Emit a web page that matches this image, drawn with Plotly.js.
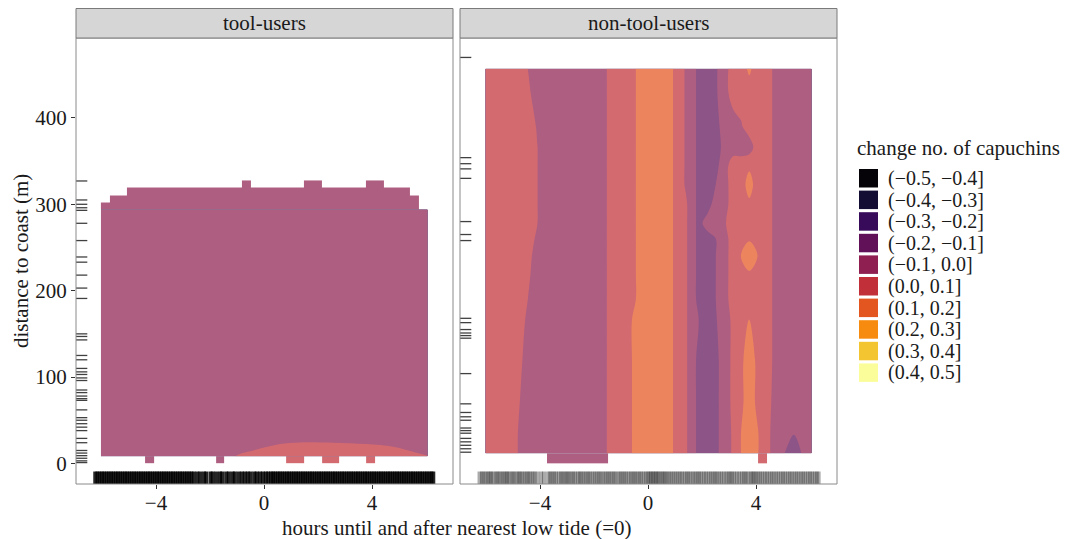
<!DOCTYPE html>
<html><head><meta charset="utf-8">
<script src="https://cdn.plot.ly/plotly-3.0.1.min.js"></script>
<style>html,body{margin:0;padding:0;background:#fff}#chart{width:1069px;height:539px}</style>
</head><body><div id="chart"></div>
<script>
// ---------------- DATA ----------------
const facetLabels = ['tool-users', 'non-tool-users'];
const xTitle = 'hours until and after nearest low tide (=0)';
const yTitle = 'distance to coast (m)';
const legendTitle = 'change no. of capuchins';
const binLabels = ['(\u22120.5, \u22120.4]', '(\u22120.4, \u22120.3]', '(\u22120.3, \u22120.2]', '(\u22120.2, \u22120.1]',
  '(\u22120.1, 0.0]', '(0.0, 0.1]', '(0.1, 0.2]', '(0.2, 0.3]', '(0.3, 0.4]', '(0.4, 0.5]'];
const binColors = ['#050308', '#140D33', '#370B5A', '#611158', '#8E1F50', '#C13039', '#E4561F', '#F68B10', '#F2C531', '#FBFD9A'];
const xTicks = [-4, 0, 4];
const yTicks = [0, 100, 200, 300, 400];

// tool-users: smoothed surface (x = hours, y = distance, z = change)
const toolX = [-6.04, -1.5, -1.2, -0.8, -0.4, 0.08, 0.6, 1.32, 2.56, 3.8, 4.79, 5.65, 6.06];
const toolY = [8.4, 40, 294];
const toolZ = [
  [-0.05, -0.05, -0.003, 0.0064, 0.0132, 0.0252, 0.0403, 0.0506, 0.0488, 0.0398, 0.0263, 0.0072, 0.001],
  [-0.05, -0.05, -0.05, -0.05, -0.05, -0.05, -0.05, -0.05, -0.05, -0.05, -0.05, -0.05, -0.05],
  [-0.05, -0.05, -0.05, -0.05, -0.05, -0.05, -0.05, -0.05, -0.05, -0.05, -0.05, -0.05, -0.05]
];
// tool-users: grid cells at the upper edge of the surface
const toolCapX = [-6.04, -5.713, -5.059, -0.808, -0.481, 1.481, 2.135, 3.77, 4.424, 5.405, 5.732, 6.06];
const toolCapY = [294, 302.4, 310.8, 319.2, 327.6];
const toolCapZ = [
  [-0.05, -0.05, -0.05, -0.05, -0.05, -0.05, -0.05, -0.05, -0.05, -0.05, null],
  [null, -0.05, -0.05, -0.05, -0.05, -0.05, -0.05, -0.05, -0.05, -0.05, null],
  [null, null, -0.05, -0.05, -0.05, -0.05, -0.05, -0.05, -0.05, null, null],
  [null, null, null, -0.05, null, -0.05, null, -0.05, null, null, null]
];
// tool-users: grid cells at the coast (lowest row)
const toolBaseX = [-4.405, -4.078, -1.789, -1.462, 0.827, 1.481, 2.135, 2.789, 3.77, 4.097];
const toolBaseY = [0, 8.4];
const toolBaseZ = [[-0.05, null, -0.05, null, 0.05, null, 0.05, null, 0.05]];

// non-tool-users: smoothed surface
const nonX = [-6.02, -5.0, -4.7, -4.4, -4.1, -3.8, -1.75, -1.3, -0.75, -0.3, 0.7, 1.15, 1.4, 1.6,
  1.9, 2.2, 2.5, 2.8, 3.15, 3.45, 3.75, 4.05, 4.4, 4.8, 5.1, 5.4, 5.7, 6.06];
const nonY = [11.7, 35, 70, 120, 166, 190, 220, 240, 260, 278, 300, 323, 345, 366, 390, 430, 457];
const nonZ = [
  [0.05, 0.05, -0.033, -0.05, -0.05, -0.05, -0.05, 0.05, 0.05, 0.195, 0.15, 0.05, 0.017, -0.05, -0.133, -0.15, -0.133, -0.05, 0.0125, 0.102, 0.15, 0.11, 0.024, -0.05, -0.108, -0.16, -0.096, -0.05],
  [0.05, 0.05, -0.033, -0.05, -0.05, -0.05, -0.05, 0.05, 0.05, 0.195, 0.15, 0.05, 0.017, -0.05, -0.133, -0.15, -0.133, -0.05, 0.0125, 0.102, 0.15, 0.11, 0.024, -0.05, -0.05, -0.095, -0.05, -0.05],
  [0.05, 0.05, -0.01, -0.05, -0.05, -0.05, -0.05, 0.05, 0.05, 0.195, 0.15, 0.05, 0.017, -0.05, -0.133, -0.15, -0.133, -0.05, 0.02, 0.08, 0.15, 0.08, 0.035, -0.05, -0.05, -0.05, -0.05, -0.05],
  [0.05, 0.05, 0.01, -0.05, -0.05, -0.05, -0.05, 0.05, 0.05, 0.195, 0.15, 0.05, 0.017, -0.05, -0.133, -0.15, -0.133, -0.05, 0.02, 0.08, 0.15, 0.08, 0.05, -0.05, -0.05, -0.05, -0.05, -0.05],
  [0.05, 0.05, 0.05, -0.05, -0.05, -0.05, -0.05, 0.05, 0.05, 0.195, 0.15, 0.05, 0.017, -0.05, -0.104, -0.15, -0.11, -0.05, 0.02, 0.05, 0.105, 0.05, 0.05, -0.05, -0.05, -0.05, -0.05, -0.05],
  [0.05, 0.05, 0.05, -0.01, -0.05, -0.05, -0.05, 0.05, 0.05, 0.125, 0.15, 0.05, 0.017, -0.05, -0.133, -0.15, -0.102, -0.05, 0.05, 0.05, 0.05, 0.05, 0.05, -0.05, -0.05, -0.05, -0.05, -0.05],
  [0.05, 0.05, 0.05, 0.01, -0.05, -0.05, -0.05, 0.05, 0.05, 0.125, 0.15, 0.05, 0.017, -0.05, -0.133, -0.15, -0.102, -0.05, 0.05, 0.05, 0.09, 0.05, 0.05, -0.05, -0.05, -0.05, -0.05, -0.05],
  [0.05, 0.05, 0.05, 0.025, -0.05, -0.05, -0.05, 0.05, 0.05, 0.125, 0.15, 0.05, 0.017, -0.05, -0.133, -0.15, -0.102, -0.05, 0.05, 0.102, 0.16, 0.105, 0.05, -0.05, -0.05, -0.05, -0.05, -0.05],
  [0.05, 0.05, 0.05, 0.05, -0.025, -0.05, -0.05, 0.05, 0.05, 0.125, 0.15, 0.05, 0.017, -0.05, -0.133, -0.15, -0.102, -0.05, 0.05, 0.05, 0.09, 0.05, 0.05, -0.05, -0.05, -0.05, -0.05, -0.05],
  [0.05, 0.05, 0.05, 0.05, 0.002, -0.05, -0.05, 0.05, 0.05, 0.125, 0.15, 0.05, 0.017, -0.05, -0.133, -0.05, -0.05, -0.017, 0.05, 0.05, 0.05, 0.05, 0.05, -0.05, -0.05, -0.05, -0.05, -0.05],
  [0.05, 0.05, 0.05, 0.05, 0.002, -0.05, -0.05, 0.05, 0.05, 0.125, 0.15, 0.05, 0.017, -0.05, -0.133, -0.15, -0.05, -0.05, 0.05, 0.05, 0.08, 0.05, 0.05, -0.05, -0.05, -0.05, -0.05, -0.05],
  [0.05, 0.05, 0.05, 0.05, 0.002, -0.05, -0.05, 0.05, 0.05, 0.125, 0.15, 0.05, -0.0125, -0.05, -0.133, -0.15, -0.102, -0.05, 0.05, 0.05, 0.144, 0.05, 0.05, -0.05, -0.05, -0.05, -0.05, -0.05],
  [0.05, 0.05, 0.05, 0.05, 0.002, -0.05, -0.05, 0.05, 0.05, 0.125, 0.15, 0.05, -0.0125, -0.05, -0.133, -0.15, -0.133, -0.05, 0.05, 0.05, 0.08, 0.05, 0.05, -0.05, -0.05, -0.05, -0.05, -0.05],
  [0.05, 0.05, 0.05, 0.05, 0.002, -0.05, -0.05, 0.05, 0.05, 0.125, 0.15, 0.05, -0.0125, -0.05, -0.133, -0.15, -0.15, -0.075, -0.05, -0.05, -0.05, 0.05, 0.05, -0.05, -0.05, -0.05, -0.05, -0.05],
  [0.05, 0.05, 0.05, 0.05, -0.01, -0.05, -0.05, 0.05, 0.05, 0.125, 0.15, 0.05, -0.0125, -0.05, -0.133, -0.15, -0.15, -0.05, -0.05, -0.01, 0.05, 0.05, 0.05, -0.05, -0.05, -0.05, -0.05, -0.05],
  [0.05, 0.05, 0.05, 0.01, -0.05, -0.05, -0.05, 0.05, 0.05, 0.125, 0.15, 0.05, -0.0125, -0.05, -0.133, -0.15, -0.115, -0.05, 0.05, 0.05, 0.05, 0.05, 0.05, -0.05, -0.05, -0.05, -0.05, -0.05],
  [0.05, 0.05, 0.05, -0.01, -0.05, -0.05, -0.05, 0.05, 0.05, 0.125, 0.15, 0.05, -0.0125, -0.05, -0.133, -0.15, -0.115, -0.05, 0.05, 0.05, 0.12, 0.05, 0.05, -0.05, -0.05, -0.05, -0.05, -0.05]
];
const nonBaseX = [-3.74, -1.47, 4.08, 4.40];
const nonBaseY = [0, 11.7];
const nonBaseZ = [[-0.05, null, 0.05]];

// rug observations
const toolRugY = [327, 305, 300, 296, 293, 278, 258, 239, 233, 218, 203, 191, 150, 147, 143, 125, 120, 110, 106, 103, 99, 96,
  85, 82, 78, 75, 73, 62, 53, 50, 46, 42, 38, 29, 24, 15, 12, 9, 6, 3, 1];
const nonRugY = [470, 354, 347, 341, 330, 280, 265, 258, 168, 163, 155, 151, 148, 145, 104, 69, 59, 54, 50, 41, 38, 35, 29, 25, 21, 17, 13];
const toolRugX = [-6.25, -6.17, -6.09, -6.0, -5.92, -5.83, -5.75, -5.66, -5.58, -5.49, -5.41, -5.32, -5.24, -5.15, -5.07, -4.98,
  -4.9, -4.81, -4.73, -4.64, -4.56, -4.47, -4.39, -4.3, -4.22, -4.13, -4.05, -3.96, -3.88, -3.79, -3.71, -3.62, -3.54, -3.45,
  -3.37, -3.28, -3.2, -3.11, -3.03, -2.94, -2.86, -2.77, -2.69, -2.6, -2.47, -2.36, -2.22, -2.14, -1.98, -1.9, -1.77, -1.63,
  -1.55, -1.4, -1.3, -1.16, -1.08, -0.94, -0.82, -0.71, -0.6, -0.5, -0.36, -0.27, -0.15, -0.04, 0.07, 0.16, 0.26, 0.34, 0.42,
  0.51, 0.59, 0.68, 0.76, 0.85, 0.93, 1.02, 1.1, 1.19, 1.27, 1.36, 1.44, 1.53, 1.61, 1.7, 1.78, 1.87, 1.95, 2.04, 2.12, 2.21,
  2.29, 2.38, 2.46, 2.55, 2.63, 2.72, 2.8, 2.89, 2.97, 3.06, 3.14, 3.23, 3.31, 3.4, 3.48, 3.57, 3.65, 3.74, 3.82, 3.91, 3.99,
  4.08, 4.16, 4.25, 4.33, 4.42, 4.5, 4.59, 4.67, 4.76, 4.84, 4.93, 5.01, 5.1, 5.18, 5.27, 5.35, 5.44, 5.52, 5.61, 5.69, 5.78,
  5.86, 5.95, 6.03, 6.12, 6.2, 6.27];
const nonRugX = [-6.24, -6.15, -6.09, -6.0, -5.93, -5.85, -5.8, -5.71, -5.62, -5.56, -5.48, -5.4, -5.33, -5.25, -5.2, -5.12,
  -5.03, -4.97, -4.88, -4.8, -4.74, -4.66, -4.58, -4.5, -4.43, -4.36, -4.27, -4.2, -4.1, -3.96, -3.85, -3.7, -3.62, -3.55, -3.47,
  -3.4, -3.3, -3.22, -3.15, -3.07, -3.0, -2.93, -2.85, -2.77, -2.7, -2.6, -2.53, -2.46, -2.38, -2.3, -2.22, -2.15, -2.06, -1.98,
  -1.9, -1.82, -1.75, -1.66, -1.58, -1.5, -1.43, -1.35, -1.27, -1.2, -1.1, -1.02, -0.95, -0.87, -0.8, -0.71, -0.63, -0.55, -0.48,
  -0.4, -0.32, -0.25, -0.16, -0.08, 0.0, 0.06, 0.12, 0.18, 0.24, 0.3, 0.36, 0.42, 0.5, 0.56, 0.63, 0.7, 0.78, 0.86, 0.94, 1.02,
  1.1, 1.18, 1.26, 1.35, 1.43, 1.5, 1.58, 1.67, 1.75, 1.83, 1.9, 1.98, 2.07, 2.15, 2.24, 2.32, 2.4, 2.48, 2.55, 2.64, 2.72, 2.81,
  2.9, 2.98, 3.05, 3.12, 3.2, 3.29, 3.38, 3.47, 3.55, 3.62, 3.7, 3.8, 3.86, 3.93, 4.0, 4.08, 4.16, 4.24, 4.33, 4.41, 4.5, 4.58,
  4.66, 4.75, 4.83, 4.92, 5.0, 5.08, 5.17, 5.25, 5.33, 5.42, 5.5, 5.58, 5.67, 5.75, 5.83, 5.92, 6.0, 6.08, 6.17, 6.25, 6.32];

// ---------------- STYLE / LAYOUT ----------------
const W = 1069, H = 539;
const FONT = 'Liberation Serif';
const TXT = '#1a1a1a';
const FS = 21;
const px = v => v / W, py = v => 1 - v / H;
const fillAlpha = 0.72;
function blend(hex, a) {
  const n = parseInt(hex.slice(1), 16);
  const f = c => Math.round(c * a + 255 * (1 - a));
  return 'rgb(' + f((n >> 16) & 255) + ',' + f((n >> 8) & 255) + ',' + f(n & 255) + ')';
}
const fillCols = binColors.map(c => blend(c, fillAlpha));
const cscale = [];
fillCols.forEach((c, i) => {
  const lo = i === 0 ? 0 : (i - 0.5) / 9, hi = i === 9 ? 1 : (i + 0.5) / 9;
  cscale.push([lo, c], [hi, c]);
});
const common = { showscale: false, hoverinfo: 'skip', colorscale: cscale, zmin: -0.45, zmax: 0.45, zauto: false };
function contour(x, y, z, xa) {
  return Object.assign({ type: 'contour', x, y, z, xaxis: xa, yaxis: 'y', autocontour: false,
    contours: { start: -0.4, end: 0.4, size: 0.1, coloring: 'fill', showlines: false },
    line: { width: 0, smoothing: 1 } }, common);
}
function cells(x, y, z, xa) {
  return Object.assign({ type: 'heatmap', x, y, z, xaxis: xa, yaxis: 'y', zsmooth: false }, common);
}
const data = [
  contour(toolX, toolY, toolZ, 'x'),
  cells(toolCapX, toolCapY, toolCapZ, 'x'),
  cells(toolBaseX, toolBaseY, toolBaseZ, 'x'),
  contour(nonX, nonY, nonZ, 'x2'),
  cells(nonBaseX, nonBaseY, nonBaseZ, 'x2')
];

const shapes = [];
const rugY = (vals, xr) => vals.forEach(v => shapes.push({ type: 'line', xref: xr, yref: 'y', x0: 0, x1: 0.03, y0: v, y1: v,
  line: { color: 'rgba(0,0,0,0.75)', width: 1.3 } }));
const rugX = (vals, xr, col, w) => vals.forEach(v => shapes.push({ type: 'line', xref: xr, yref: 'y domain', x0: v, x1: v, y0: 0, y1: 0.028,
  line: { color: col, width: w } }));
rugY(toolRugY, 'x domain');
rugY(nonRugY, 'x2 domain');
rugX(toolRugX, 'x', 'rgba(0,0,0,0.85)', 4);
rugX(nonRugX, 'x2', 'rgba(0,0,0,0.33)', 4);
['x domain', 'x2 domain'].forEach(xr => {
  shapes.push({ type: 'rect', xref: xr, yref: 'y domain', x0: 0, x1: 1, y0: 0, y1: 1, line: { color: '#8a8a8a', width: 1 } });
  shapes.push({ type: 'rect', xref: xr, yref: 'paper', x0: 0, x1: 1, y0: py(38), y1: py(8.5), fillcolor: '#D6D6D6',
    line: { color: '#7a7a7a', width: 1 } });
});
binColors.forEach((c, i) => shapes.push({ type: 'rect', xref: 'paper', yref: 'paper', x0: px(859), x1: px(878),
  y0: py(187.5 + 21.6 * i), y1: py(169 + 21.6 * i), fillcolor: c, line: { width: 0 } }));

const annotations = [];
const tf = { family: FONT, size: FS, color: TXT };
const lf = { family: FONT, size: 20, color: TXT };
facetLabels.forEach((t, i) => annotations.push({ text: t, xref: i ? 'x2 domain' : 'x domain', yref: 'paper', x: 0.5, y: py(23),
  xanchor: 'center', yanchor: 'middle', showarrow: false, font: tf }));
annotations.push({ text: xTitle, xref: 'paper', yref: 'paper', x: px(456.5), y: py(528), xanchor: 'center', yanchor: 'middle',
  showarrow: false, font: tf });
annotations.push({ text: yTitle, xref: 'paper', yref: 'paper', x: px(21), y: py(261), xanchor: 'center', yanchor: 'middle',
  textangle: -90, showarrow: false, font: tf });
annotations.push({ text: legendTitle, xref: 'paper', yref: 'paper', x: px(855), y: py(148), xanchor: 'left', yanchor: 'middle',
  showarrow: false, font: tf });
binLabels.forEach((t, i) => annotations.push({ text: t, xref: 'paper', yref: 'paper', x: px(887), y: py(178.5 + 21.6 * i),
  xanchor: 'left', yanchor: 'middle', showarrow: false, font: lf, borderpad: 0 }));

const xax = dom => ({ domain: dom, range: [-6.963, 7.0], anchor: 'y', tickvals: xTicks, ticks: 'outside', ticklen: 4,
  tickcolor: '#333', tickwidth: 1, showgrid: false, zeroline: false, showline: false, fixedrange: true,
  ticklabelstandoff: -4, tickfont: tf });
const layout = {
  width: W, height: H, margin: { l: 0, r: 0, t: 0, b: 0 }, paper_bgcolor: '#fff', plot_bgcolor: '#fff', showlegend: false,
  font: { family: FONT, size: FS, color: TXT },
  xaxis: xax([px(76), px(453)]),
  xaxis2: xax([px(460), px(837)]),
  yaxis: { domain: [py(484), py(38)], range: [-23.8, 492.5], anchor: 'x', tickvals: yTicks, ticks: 'outside', ticklen: 4,
    tickcolor: '#333', tickwidth: 1, showgrid: false, zeroline: false, showline: false, fixedrange: true,
    tickfont: tf },
  shapes, annotations
};
Plotly.newPlot('chart', data, layout, { displayModeBar: false, staticPlot: true });
</script>
</body></html>
